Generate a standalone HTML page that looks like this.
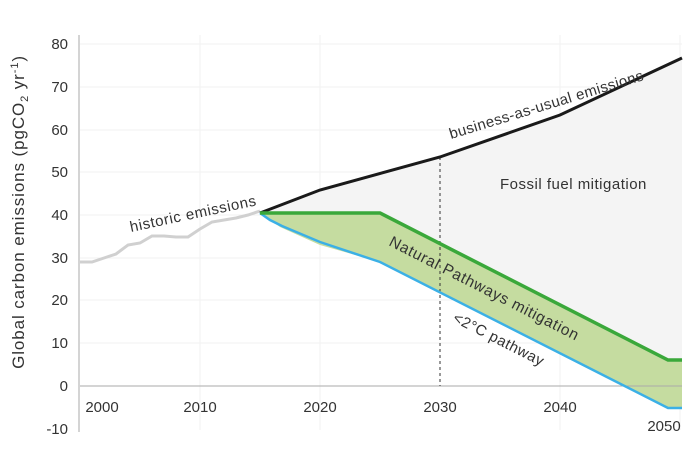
<!DOCTYPE html><html><head><style>body{margin:0;background:#fff}svg text{font-family:"Liberation Sans",sans-serif;fill:#333}</style></head><body>
<svg width="696" height="450" xmlns="http://www.w3.org/2000/svg">
<g stroke="#f2f2f2" stroke-width="1">
<line x1="80" y1="44" x2="682" y2="44"/><line x1="80" y1="87" x2="682" y2="87"/><line x1="80" y1="130" x2="682" y2="130"/><line x1="80" y1="172" x2="682" y2="172"/><line x1="80" y1="215" x2="682" y2="215"/><line x1="80" y1="258" x2="682" y2="258"/><line x1="80" y1="300" x2="682" y2="300"/><line x1="80" y1="343" x2="682" y2="343"/>
<line x1="200" y1="35" x2="200" y2="430"/><line x1="320" y1="35" x2="320" y2="430"/><line x1="560" y1="35" x2="560" y2="430"/><line x1="680" y1="35" x2="680" y2="430"/>
</g>
<polygon points="260,213 320,190 440,157 560,115 682,58 682,360 668,360 380,213" fill="#f4f4f4"/>
<polygon points="668,360 682,360 682,408 668,408 645,386" fill="#f4f4f4"/>
<polygon points="260,213 380,213 668,360 682,360 682,408 668,408 380,262 320,245 280,227" fill="#c5dca0"/>
<line x1="80" y1="386" x2="682" y2="386" stroke="#aaa" stroke-width="1"/>
<line x1="79" y1="35" x2="79" y2="432" stroke="#aaa" stroke-width="1"/>
<line x1="440" y1="157" x2="440" y2="386" stroke="#333" stroke-width="1" stroke-dasharray="3,3"/>
<polyline points="80,262 92,262 104,258 116,254 128,245 140,243 152,236 164,236 176,237 188,237 200,229 212,222 224,220 236,218 248,215 260,211" fill="none" stroke="#d0d0d0" stroke-width="3"/>
<polyline points="260,213 320,190 440,157 560,115 682,58" fill="none" stroke="#1a1a1a" stroke-width="3"/>
<polyline points="260,213 270,220 282,226 320,242 380,262 668,408 682,408" fill="none" stroke="#3bb0e6" stroke-width="2.5"/>
<polyline points="260,213 380,213 668,360 682,360" fill="none" stroke="#3aa83a" stroke-width="3.5"/>
<g font-size="15" text-anchor="end">
<text x="68" y="49">80</text><text x="68" y="92">70</text><text x="68" y="135">60</text><text x="68" y="177">50</text><text x="68" y="220">40</text><text x="68" y="263">30</text><text x="68" y="305">20</text><text x="68" y="348">10</text><text x="68" y="391">0</text><text x="68" y="434">-10</text>
</g>
<g font-size="15" text-anchor="middle">
<text x="102" y="412">2000</text><text x="200" y="412">2010</text><text x="320" y="412">2020</text><text x="440" y="412">2030</text><text x="560" y="412">2040</text><text x="664" y="431">2050</text>
</g>
<text transform="translate(24,212) rotate(-90)" font-size="17" letter-spacing="0.9" text-anchor="middle">Global carbon emissions (pgCO<tspan font-size="11" dy="4">2</tspan><tspan dy="-4"> yr</tspan><tspan font-size="11" dy="-6">-1</tspan><tspan dy="6">)</tspan></text>
<text transform="translate(131,232) rotate(-12)" font-size="15" letter-spacing="0.6">historic emissions</text>
<text transform="translate(451,139) rotate(-17)" font-size="15" letter-spacing="0.4">business-as-usual emissions</text>
<text x="500" y="189" font-size="15" letter-spacing="0.5">Fossil fuel mitigation</text>
<text transform="translate(388,245) rotate(27)" font-size="15.5" letter-spacing="0.7">Natural Pathways mitigation</text>
<text transform="translate(452,321) rotate(27)" font-size="15" letter-spacing="0.5">&lt;2°C pathway</text>
</svg></body></html>
